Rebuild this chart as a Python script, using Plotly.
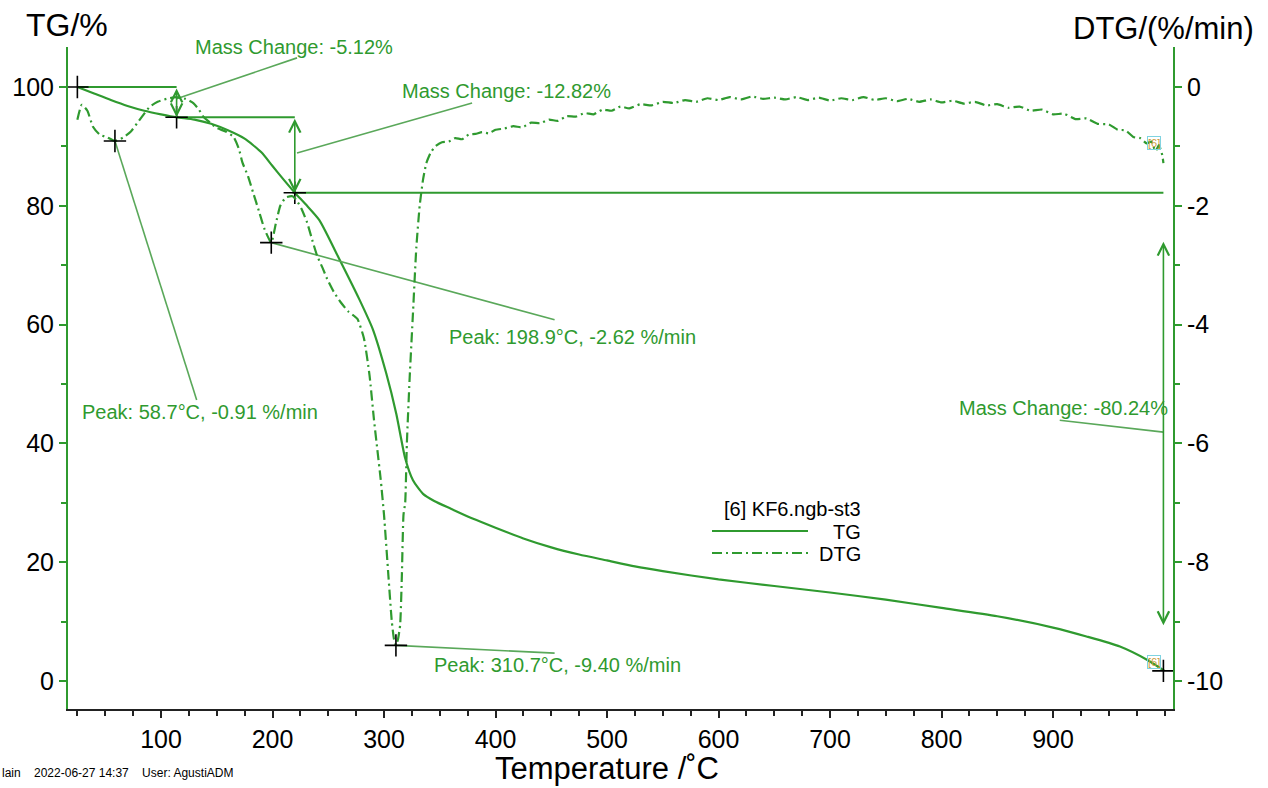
import plotly.graph_objects as go

# ---------------- data ----------------
tg_temp = [25, 40, 55, 70, 85, 100, 114, 130, 145, 160, 175, 190, 200, 210, 220, 230, 242, 260, 278,
           290, 302, 311, 319, 326, 335, 345, 360, 380, 400, 425, 450, 475, 500, 525, 550, 600, 650, 700,
           750, 800, 850, 900, 930, 960, 985, 1000]
tg_val = [100, 98.9, 97.8, 96.8, 96.0, 95.4, 94.9, 94.5, 93.8, 92.7, 91.3, 89.0, 86.7, 84.4, 82.2, 80.2,
          77.6, 71.0, 64.2, 59.2, 51.8, 45.0, 37.5, 33.8, 31.5, 30.3, 29.0, 27.3, 25.8, 24.0, 22.5, 21.3,
          20.3, 19.3, 18.5, 17.1, 16.0, 14.9, 13.7, 12.3, 10.9, 9.0, 7.5, 5.8, 3.5, 1.7]

dtg_temp = [25, 29, 34, 39, 45, 52, 58.7, 66, 73, 79, 85, 90, 97, 105, 114, 122, 129, 134, 138, 144, 150,
            158, 165, 170, 173, 178, 182.5, 188, 193, 198.9, 203, 207, 212, 218, 222, 226, 231, 236, 240,
            245, 249, 255, 261, 268, 276, 282, 287, 291, 294, 297, 300, 304, 307, 309, 310.7, 312.5, 314.5,
            316, 317.5, 319, 320.5, 323, 326, 329, 332, 335, 338, 342,
            346, 352, 358, 364, 370, 376, 382, 388, 394, 400, 408, 416, 424, 432, 440, 448, 456, 464, 472,
            480, 488, 496, 504, 512, 520, 530, 540, 550, 560, 570, 580, 590, 600, 610, 620, 630, 640, 650,
            660, 670, 680, 690, 700, 710, 720, 730, 740, 750, 760, 770, 780, 790, 800, 810, 820, 830, 840,
            850, 860, 870, 880, 890, 900, 910, 920, 930, 940, 950, 958, 965, 972, 978, 984, 988, 992, 995,
            998, 999]
dtg_val = [-0.55, -0.30, -0.40, -0.67, -0.80, -0.85, -0.91, -0.85, -0.75, -0.60, -0.45, -0.33, -0.25, -0.20,
           -0.17, -0.20, -0.27, -0.38, -0.50, -0.60, -0.69, -0.75, -0.84, -1.05, -1.27, -1.50, -1.77, -2.10,
           -2.40, -2.62, -2.30, -2.00, -1.86, -1.84, -1.92, -2.05, -2.28, -2.60, -2.84, -3.05, -3.23, -3.45,
           -3.62, -3.78, -3.90, -4.23, -4.85, -5.60, -6.10, -6.60, -7.20, -8.24, -9.00, -9.30, -9.40, -9.30,
           -9.05, -8.24, -7.20, -7.00, -6.00, -4.90, -3.80, -2.70, -2.00, -1.56, -1.28, -1.10,
           -1.00, -0.93, -0.92, -0.86, -0.88, -0.80, -0.79, -0.76, -0.78, -0.72, -0.70, -0.66, -0.68, -0.60,
           -0.61, -0.55, -0.57, -0.49, -0.50, -0.44, -0.46, -0.38, -0.40, -0.33, -0.36, -0.29, -0.31, -0.25,
           -0.27, -0.22, -0.25, -0.19, -0.22, -0.17, -0.21, -0.16, -0.20, -0.18, -0.21, -0.17, -0.22, -0.18,
           -0.23, -0.19, -0.22, -0.17, -0.22, -0.19, -0.24, -0.20, -0.25, -0.21, -0.26, -0.23, -0.28, -0.25,
           -0.31, -0.29, -0.35, -0.33, -0.40, -0.38, -0.46, -0.45, -0.54, -0.53, -0.62, -0.63, -0.72, -0.73,
           -0.84, -0.86, -0.95, -0.92, -1.08, -0.98, -1.15, -1.28]

# mass-change steps (temperature, TG level)
step_temp = [25, 114, 220, 999]
step_tg = [100, 94.9, 82.2, 1.7]
mass_change_labels = ["Mass Change: -5.12%", "Mass Change: -12.82%", "Mass Change: -80.24%"]

# DTG peaks
peak_temp = [58.7, 198.9, 310.7]
peak_dtg = [-0.91, -2.62, -9.40]
peak_labels = ["Peak: 58.7°C, -0.91 %/min", "Peak: 198.9°C, -2.62 %/min", "Peak: 310.7°C, -9.40 %/min"]

x_ticks = [100, 200, 300, 400, 500, 600, 700, 800, 900]
y_ticks = [0, 20, 40, 60, 80, 100]
y2_ticks = [-10, -8, -6, -4, -2, 0]
y2_ticktext = ["-10", "-8", "-6", "-4", "-2", "0"]

GREEN = "#2f9a2f"
LEAD = "#5aa85a"
FONT = "Arial, Liberation Sans, sans-serif"

X_RANGE = [16.6, 1007.6]
Y_RANGE = [-4.71, 106.73]
Y2_RANGE = [(Y_RANGE[0] - 100) / 10, (Y_RANGE[1] - 100) / 10]

PL, PR, PT, PB = 68, 1173, 47, 709


def px(xp):
    return (xp - PL) / (PR - PL)


def py(yp):
    return (PB - yp) / (PB - PT)


fig = go.Figure()

# TG curve
fig.add_trace(go.Scatter(x=tg_temp, y=tg_val, mode="lines",
                         line=dict(color=GREEN, width=2.2, shape="spline", smoothing=0.6),
                         showlegend=False, hoverinfo="skip"))
# DTG curve
fig.add_trace(go.Scatter(x=dtg_temp, y=dtg_val, yaxis="y2", mode="lines",
                         line=dict(color=GREEN, width=2.2, dash="10px,4px,2px,4px", shape="spline", smoothing=0.5),
                         showlegend=False, hoverinfo="skip"))

# Mass-change step lines (horizontal levels)
hx = [step_temp[0], step_temp[1], None, step_temp[1], step_temp[2], None, step_temp[2] - 2, step_temp[3]]
hy = [step_tg[0], step_tg[0], None, step_tg[1], step_tg[1], None, step_tg[2], step_tg[2]]
fig.add_trace(go.Scatter(x=hx, y=hy, mode="lines", line=dict(color=GREEN, width=2),
                         showlegend=False, hoverinfo="skip"))

# vertical double arrows
arrows = [(step_temp[1], step_tg[0], step_tg[1]),
          (step_temp[2], step_tg[1], step_tg[2]),
          (step_temp[3], 74.2, 9.4)]
for (xa, y0, y1) in arrows:
    fig.add_annotation(x=xa, y=y1, ax=xa, ay=y0, xref="x", yref="y", axref="x", ayref="y",
                       text="", showarrow=True, arrowhead=5, arrowside="end+start",
                       arrowsize=1.4, arrowwidth=1.6, arrowcolor=GREEN, standoff=0, startstandoff=0)

# leader lines (start -> end) in TG coordinates
lead_x = [114, 222, None, 222, 379, None, 906, 999, None,
          58.7, 132, None, 198.9, 453, None, 310.7, 453]
lead_y = [98.0, 104.9, None, 88.9, 97.3, None, 43.9, 41.9, None,
          100 + 10 * peak_dtg[0], 47.3, None, 100 + 10 * peak_dtg[1], 60.8, None, 100 + 10 * peak_dtg[2], 4.7]
fig.add_trace(go.Scatter(x=lead_x, y=lead_y, mode="lines", line=dict(color=LEAD, width=1.6),
                         showlegend=False, hoverinfo="skip"))

# crosses
fig.add_trace(go.Scatter(x=step_temp, y=step_tg, mode="markers",
                         marker=dict(symbol="cross-thin", size=16, line=dict(color="black", width=1.6)),
                         showlegend=False, hoverinfo="skip"))
fig.add_trace(go.Scatter(x=peak_temp, y=peak_dtg, yaxis="y2", mode="markers",
                         marker=dict(symbol="cross-thin", size=16, line=dict(color="black", width=1.6)),
                         showlegend=False, hoverinfo="skip"))

# labels
label_pos = [(128.5, 106.7), (314, 99.4), (814, 46.0)]
for (lx, ly), t in zip(label_pos, mass_change_labels):
    fig.add_annotation(x=lx, y=ly, xref="x", yref="y", text=t, showarrow=False, xanchor="left", yanchor="middle",
                       font=dict(family=FONT, size=20, color=GREEN))
peak_pos = [(27.4, 45.3), (356.5, 57.9), (343, 2.7)]
for (lx, ly), t in zip(peak_pos, peak_labels):
    fig.add_annotation(x=lx, y=ly, xref="x", yref="y", text=t, showarrow=False, xanchor="left", yanchor="middle",
                       font=dict(family=FONT, size=20, color=GREEN))

# small [6] tags
for (lx, ly) in [(991, 90.5), (991, 3.2)]:
    fig.add_annotation(x=lx, y=ly, xref="x", yref="y", text="[6]", showarrow=False,
                       font=dict(family=FONT, size=11, color="#c89a3a"), bordercolor="#7fd3e0", borderwidth=1,
                       borderpad=0)

# custom legend
fig.add_annotation(x=px(862), y=py(508), xref="paper", yref="paper", text="[6] KF6.ngb-st3", showarrow=False,
                   xanchor="right", yanchor="middle", height=23, borderpad=0,
                   font=dict(family=FONT, size=20, color="black"))
for name, yy, dash in [("TG", 531, "solid"), ("DTG", 553, "10px,4px,2px,4px")]:
    fig.add_shape(type="line", xref="paper", yref="paper",
                  x0=px(712), x1=px(808), y0=py(yy), y1=py(yy),
                  line=dict(color=GREEN, width=2.2, dash=dash))
    fig.add_annotation(x=px(862), y=py(yy), xref="paper", yref="paper", text=name, showarrow=False,
                       xanchor="right", yanchor="middle", height=19, borderpad=0,
                       font=dict(family=FONT, size=20, color="black"))

# axis titles
fig.add_annotation(x=px(24), y=py(25), xref="paper", yref="paper", text="TG/%",
                   showarrow=False, xanchor="left", yanchor="middle", font=dict(family=FONT, size=32, color="black"))
fig.add_annotation(x=px(1256), y=py(28), xref="paper", yref="paper",
                   text="DTG/(%/min)", showarrow=False, xanchor="right", yanchor="middle",
                   font=dict(family=FONT, size=31, color="black"))
fig.add_annotation(x=px(607), y=py(768), xref="paper", yref="paper",
                   text="Temperature /˚C", showarrow=False, xanchor="center", yanchor="middle",
                   font=dict(family=FONT, size=31, color="black"))
fig.add_annotation(x=px(0), y=py(773), xref="paper", yref="paper",
                   text="lain&nbsp;&nbsp;&nbsp;&nbsp;2022-06-27 14:37&nbsp;&nbsp;&nbsp;&nbsp;User: AgustiADM",
                   showarrow=False, xanchor="left", yanchor="middle", font=dict(family=FONT, size=12, color="black"))

fig.update_layout(
    width=1268, height=788, autosize=False,
    margin=dict(l=68, r=95, t=47, b=79),
    paper_bgcolor="white", plot_bgcolor="white",
    showlegend=False,
    xaxis=dict(range=X_RANGE, tickvals=x_ticks, showgrid=False, zeroline=False,
               showline=True, linecolor="#222222", linewidth=2, ticks="outside", ticklen=7, tickwidth=2,
               tickcolor="#222222", tickfont=dict(family=FONT, size=25, color="black"),
               minor=dict(dtick=25, tick0=0, ticks="outside", ticklen=5, tickwidth=1.5, tickcolor="#222222")),
    yaxis=dict(range=Y_RANGE, tickvals=y_ticks, showgrid=False, zeroline=False,
               showline=True, linecolor=GREEN, linewidth=2, ticks="outside", ticklen=7, tickwidth=2,
               tickcolor=GREEN, tickfont=dict(family=FONT, size=25, color="black"),
               minor=dict(dtick=10, tick0=0, ticks="outside", ticklen=5, tickwidth=1.5, tickcolor=GREEN)),
    yaxis2=dict(range=Y2_RANGE, tickvals=y2_ticks, ticktext=y2_ticktext, overlaying="y", side="right",
                showgrid=False, zeroline=False,
                showline=True, linecolor=GREEN, linewidth=2, ticks="outside", ticklen=7, tickwidth=2,
                tickcolor=GREEN, tickfont=dict(family=FONT, size=25, color="black"),
                minor=dict(dtick=1, tick0=0, ticks="outside", ticklen=5, tickwidth=1.5, tickcolor=GREEN)),
)

fig.write_html("out.html")
